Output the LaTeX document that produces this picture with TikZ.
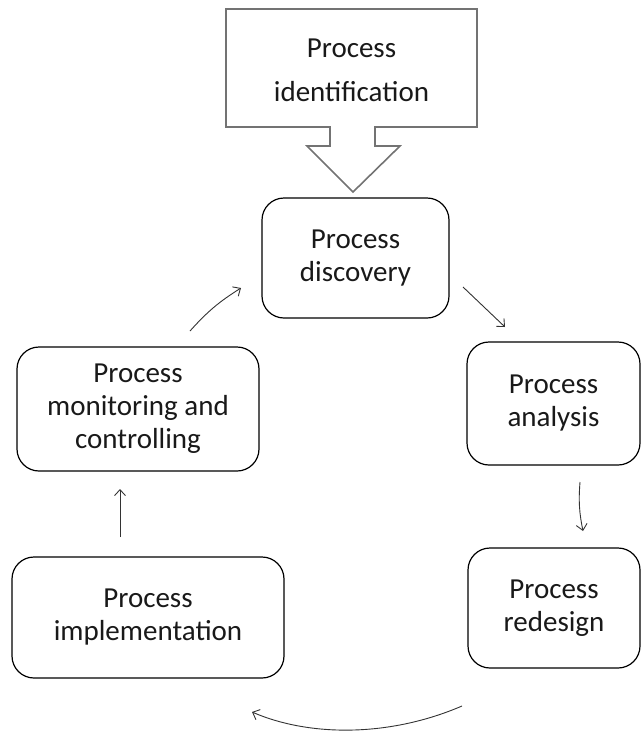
\documentclass[tikz,border=0pt]{standalone}
\usepackage{fontspec}
\setmainfont{Carlito}
\usetikzlibrary{arrows.meta}
\begin{document}
\begin{tikzpicture}[x=1pt,y=-1pt,
  stage/.style={draw=black, line width=1.2pt, rounded corners=22pt,
    align=center, inner sep=0pt, text=black!90,
    font=\fontsize{29}{33}\selectfont},
  cyc/.style={draw=black!80, line width=0.9pt,
    -{Straight Barb[length=6pt,width=11pt,line width=0.9pt]}},
  outline/.style={draw=black!55, line width=1.6pt, line join=miter}]
\useasboundingbox (0,0) rectangle (643,734);

% identification banner with its downward block arrow
\draw[outline] (226,9) -- (477,9) -- (477,127) -- (375,127) -- (375,146)
  -- (400,146) -- (353,192) -- (307,146) -- (330,146) -- (330,127)
  -- (226,127) -- cycle;
\node[align=center, text=black!90, font=\fontsize{29}{44}\selectfont] (ident)
  at (351.5,70) {Process\\identification};

% the stages of the cycle
\node[stage, minimum width=187pt, minimum height=120pt] (disc) at (355.5,258)
  {Process\\discovery};
\node[stage, minimum width=173pt, minimum height=123pt] (ana) at (553.5,403.5)
  {Process\\analysis};
\node[stage, minimum width=172pt, minimum height=120pt] (red) at (554,608)
  {Process\\redesign};
\node[stage, minimum width=272pt, minimum height=121pt] (impl) at (148,617.5)
  {Process\\implementation};
\node[stage, minimum width=242pt, minimum height=124pt] (mon) at (138,409)
  {Process\\monitoring and\\controlling};

% arrow end points between the stages
\coordinate (da1) at (463,287);
\coordinate (da2) at (505,327);
\coordinate (ar1) at (580,482);
\coordinate (ar2) at (583,531);
\coordinate (ri1) at (462,706);
\coordinate (ri2) at (252,712);
\coordinate (im1) at (120,537);
\coordinate (im2) at (120,489);
\coordinate (md1) at (190,331);
\coordinate (md2) at (241,288);

\draw[cyc] (da1) -- (da2);
\draw[cyc] (ar1) to[bend right=8] (ar2);
\draw[cyc] (ri1) .. controls (390,737) and (310,737) .. (ri2);
\draw[cyc] (im1) -- (im2);
\draw[cyc] (md1) to[bend left=8] (md2);
\end{tikzpicture}
\end{document}
